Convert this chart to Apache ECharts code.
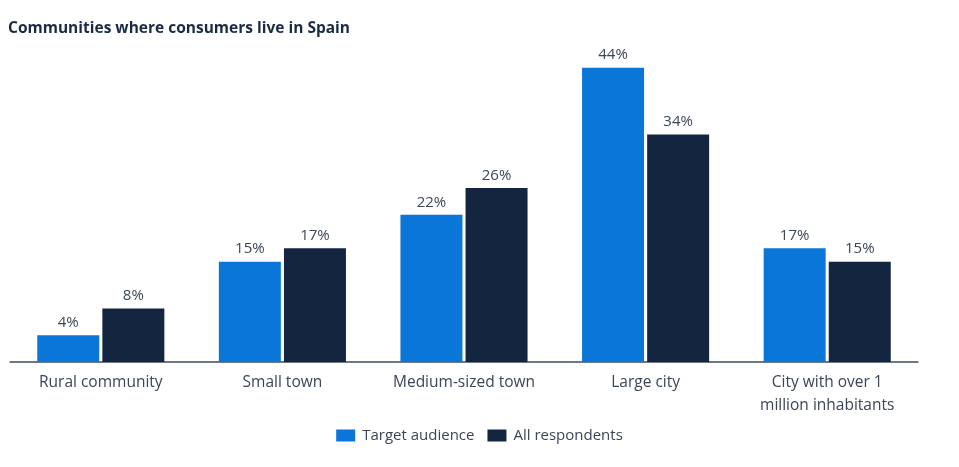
<!DOCTYPE html>
<html>
<head>
<meta charset="utf-8">
<style>
  html, body { margin: 0; padding: 0; background: #ffffff; }
  #chart { width: 959px; height: 467px; }
</style>
<script src="https://cdn.jsdelivr.net/npm/echarts@6/dist/echarts.min.js"></script>
</head>
<body>
<div id="chart"></div>
<script>
// Share of consumers by type of community they live in (%)
const categories = [
  'Rural community',
  'Small town',
  'Medium-sized town',
  'Large city',
  'City with over 1\nmillion inhabitants'
];
const seriesNames = ['Target audience', 'All respondents'];
const targetAudience = [4, 15, 22, 44, 17];
const allRespondents = [8, 17, 26, 34, 15];

const FONT = '"Open Sans", "Noto Sans", sans-serif';
const TEXT = '#3b4656';

const chart = echarts.init(document.getElementById('chart'), null, { renderer: 'canvas' });

const barLabel = {
  show: true,
  position: 'top',
  distance: 5,
  formatter: '{c}%',
  color: TEXT,
  fontFamily: FONT,
  fontSize: 15
};

chart.setOption({
  animation: false,
  backgroundColor: '#ffffff',
  title: {
    text: 'Communities where consumers live in Spain',
    left: 8,
    top: 21,
    padding: 0,
    textStyle: {
      fontFamily: FONT,
      fontWeight: 'bold',
      fontSize: 15.5,
      color: '#1b2a44'
    }
  },
  legend: {
    data: seriesNames,
    bottom: 19,
    left: 'center',
    itemWidth: 19,
    itemHeight: 12,
    itemGap: 13,
    icon: 'rect',
    textStyle: { fontFamily: FONT, fontSize: 15, color: TEXT, padding: [0, 0, 0, 2] }
  },
  grid: { left: 10, right: 41, top: 61, bottom: 105, containLabel: false },
  xAxis: {
    type: 'category',
    data: categories,
    axisTick: { show: false },
    axisLine: { lineStyle: { color: '#3d4c63', width: 1.5 } },
    axisLabel: {
      color: TEXT,
      fontFamily: FONT,
      fontSize: 15.5,
      lineHeight: 23,
      margin: 9,
      interval: 0
    }
  },
  yAxis: {
    type: 'value',
    min: 0,
    max: 45,
    show: false,
    splitLine: { show: false }
  },
  series: [
    {
      name: seriesNames[0],
      type: 'bar',
      data: targetAudience,
      barWidth: 62,
      barGap: '5%',
      itemStyle: { color: '#0a76d8' },
      label: barLabel
    },
    {
      name: seriesNames[1],
      type: 'bar',
      data: allRespondents,
      barWidth: 62,
      barGap: '5%',
      itemStyle: { color: '#14263f' },
      label: barLabel
    }
  ]
});
</script>
</body>
</html>
